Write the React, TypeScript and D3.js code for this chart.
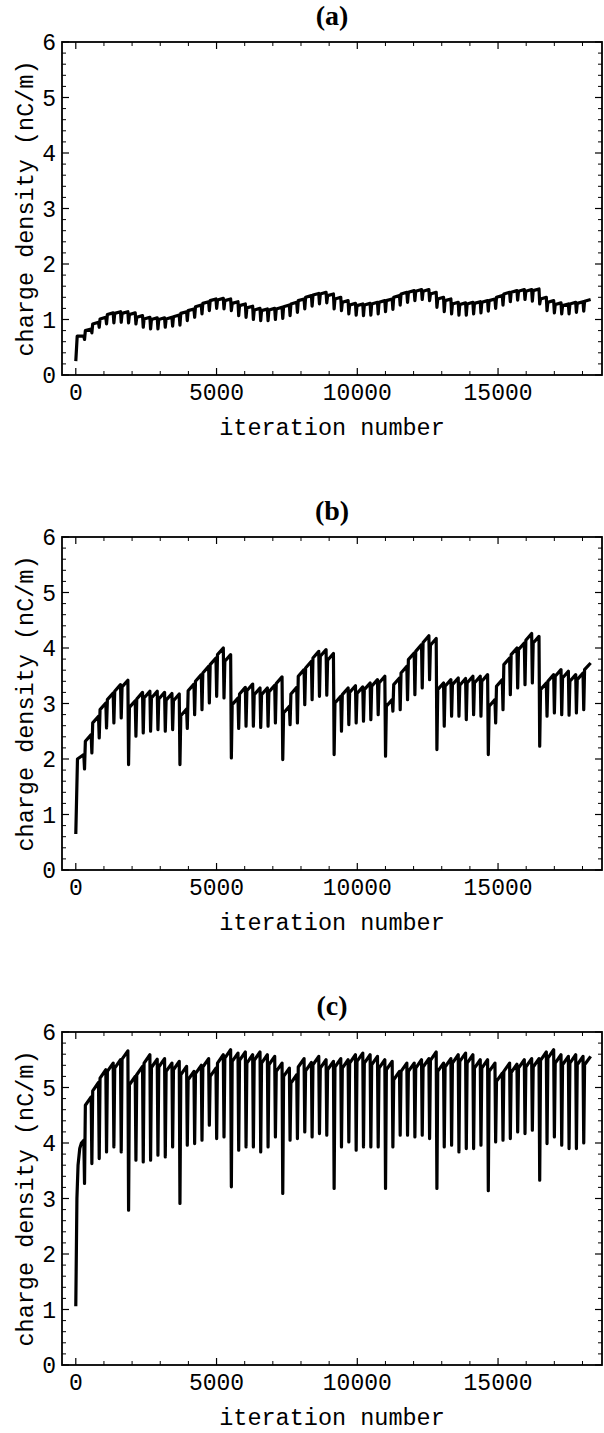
import React from 'react';
import * as d3 from 'd3';

// iterations at which the sawtooth drops (shared by all three runs)
const toothIter = [
  285, 546, 807, 1067, 1328, 1589, 1850, 2111, 2371, 2632, 2893, 3154, 3415, 3675,
  3936, 4197, 4458, 4719, 4979, 5240, 5501, 5762, 6023, 6283, 6544, 6805, 7066, 7327,
  7587, 7848, 8109, 8370, 8631, 8891, 9152, 9413, 9674, 9935, 10195, 10456, 10717, 10978,
  11239, 11499, 11760, 12021, 12282, 12543, 12803, 13064, 13325, 13586, 13847, 14107, 14368, 14629,
  14890, 15151, 15411, 15672, 15933, 16194, 16455, 16715, 16976, 17237, 17498, 17759, 18019,
];
const endIter = 18290;

// (a)
const startIterA = [0, 50];
const startValA = [0.25, 0.7];
const peakA = [
  0.70, 0.83, 0.95, 1.04, 1.12, 1.14, 1.14, 1.12, 1.07, 1.04, 1.03, 1.03, 1.04, 1.08,
  1.14, 1.19, 1.26, 1.32, 1.37, 1.38, 1.37, 1.32, 1.28, 1.24, 1.20, 1.19, 1.20, 1.22,
  1.26, 1.31, 1.37, 1.43, 1.47, 1.49, 1.46, 1.40, 1.34, 1.29, 1.28, 1.29, 1.31, 1.34,
  1.37, 1.43, 1.49, 1.52, 1.54, 1.54, 1.49, 1.40, 1.37, 1.31, 1.30, 1.31, 1.32, 1.34,
  1.37, 1.43, 1.49, 1.52, 1.54, 1.54, 1.55, 1.40, 1.34, 1.30, 1.28, 1.31, 1.32,
];
const troughA = [
  0.64, 0.76, 0.86, 0.92, 0.94, 0.95, 0.94, 0.92, 0.86, 0.83, 0.83, 0.86, 0.88, 0.90,
  0.98, 1.04, 1.10, 1.16, 1.20, 1.19, 1.16, 1.07, 1.04, 1.00, 0.98, 0.98, 1.00, 1.02,
  1.07, 1.13, 1.19, 1.24, 1.28, 1.30, 1.19, 1.16, 1.10, 1.08, 1.07, 1.08, 1.10, 1.14,
  1.18, 1.26, 1.31, 1.34, 1.36, 1.34, 1.22, 1.14, 1.10, 1.08, 1.08, 1.10, 1.12, 1.15,
  1.20, 1.26, 1.32, 1.35, 1.36, 1.33, 1.28, 1.16, 1.12, 1.10, 1.10, 1.13, 1.15,
];
const endValA = 1.36;
const gapA = 0.03; // how far below the next peak each tooth recovers

// (b)
const startIterB = [0, 60];
const startValB = [0.65, 2.0];
const peakB = [
  2.08, 2.44, 2.77, 3.01, 3.19, 3.34, 3.42, 3.05, 3.20, 3.22, 3.22, 3.20, 3.18, 3.17,
  2.90, 3.35, 3.52, 3.67, 3.82, 4.00, 3.88, 3.10, 3.29, 3.35, 3.28, 3.28, 3.33, 3.48,
  2.95, 3.29, 3.61, 3.76, 3.94, 3.97, 3.90, 3.13, 3.28, 3.32, 3.30, 3.37, 3.43, 3.49,
  3.07, 3.46, 3.67, 3.91, 4.06, 4.22, 4.17, 3.37, 3.43, 3.46, 3.45, 3.49, 3.49, 3.52,
  3.07, 3.43, 3.82, 4.00, 4.09, 4.26, 4.21, 3.37, 3.52, 3.61, 3.58, 3.52, 3.55,
];
const troughB = [
  1.82, 2.11, 2.38, 2.56, 2.65, 2.74, 1.90, 2.41, 2.47, 2.50, 2.53, 2.50, 2.53, 1.90,
  2.55, 2.80, 2.89, 3.01, 3.13, 3.10, 2.02, 2.55, 2.59, 2.59, 2.57, 2.59, 2.65, 1.99,
  2.62, 2.65, 2.98, 3.07, 3.13, 3.15, 2.08, 2.50, 2.62, 2.65, 2.68, 2.71, 2.80, 2.05,
  2.86, 2.89, 3.07, 3.16, 3.28, 3.43, 2.17, 2.59, 2.77, 2.77, 2.71, 2.80, 2.77, 2.08,
  2.65, 2.89, 3.16, 3.28, 3.34, 3.37, 2.23, 2.77, 2.83, 2.80, 2.79, 2.83, 2.89,
];
const endValB = 3.73;
const gapB = 0.12;

// (c)
const startIterC = [0, 40, 80, 140, 200];
const startValC = [1.06, 3.0, 3.6, 3.9, 4.0];
const peakC = [
  4.05, 4.83, 5.09, 5.32, 5.44, 5.50, 5.66, 5.20, 5.38, 5.59, 5.51, 5.52, 5.44, 5.47,
  5.38, 5.29, 5.40, 5.52, 5.35, 5.59, 5.68, 5.62, 5.64, 5.59, 5.64, 5.59, 5.56, 5.44,
  5.35, 5.23, 5.52, 5.45, 5.56, 5.50, 5.47, 5.52, 5.50, 5.59, 5.62, 5.59, 5.56, 5.50,
  5.47, 5.29, 5.44, 5.44, 5.50, 5.52, 5.64, 5.44, 5.52, 5.59, 5.62, 5.59, 5.50, 5.50,
  5.44, 5.26, 5.44, 5.42, 5.50, 5.52, 5.52, 5.64, 5.68, 5.59, 5.56, 5.59, 5.56,
];
const troughC = [
  3.27, 3.63, 3.72, 3.84, 3.93, 3.84, 2.79, 3.69, 3.66, 3.69, 3.78, 3.75, 3.93, 2.91,
  3.96, 3.99, 4.05, 4.32, 4.08, 4.11, 3.21, 3.87, 3.93, 3.93, 3.84, 3.93, 4.11, 3.09,
  4.05, 4.08, 4.20, 4.11, 4.17, 4.14, 3.18, 3.93, 4.02, 3.87, 3.93, 3.93, 3.93, 3.18,
  3.93, 4.14, 4.14, 4.11, 4.14, 4.08, 3.18, 3.93, 3.96, 3.84, 3.90, 3.90, 3.96, 3.14,
  4.02, 4.05, 4.08, 4.20, 4.17, 4.23, 3.33, 3.99, 4.11, 3.96, 3.90, 3.90, 4.00,
];
const endValC = 5.56;
const gapC = 0.15;

const xMajor = [0, 5000, 10000, 15000];
const yMajor = [0, 1, 2, 3, 4, 5, 6];

const buildSeries = (
  startIter: number[], startVal: number[], peaks: number[], troughs: number[], endVal: number, gap: number,
): [number, number][] => {
  const pts: [number, number][] = startIter.map((t, i) => [t, startVal[i]]);
  toothIter.forEach((t, i) => {
    const next = i + 1 < peaks.length ? peaks[i + 1] : endVal;
    pts.push([t, peaks[i]]);
    pts.push([t + 25, troughs[i]]);
    pts.push([t + 55, next - gap]);
  });
  pts.push([endIter, endVal]);
  return pts;
};

const LEFT = 62;
const RIGHT = 602;
const HEIGHT = 333;
const mono = '"Liberation Mono", "DejaVu Sans Mono", monospace';

interface PanelProps {
  title: string;
  top: number;
  data: [number, number][];
}

const Panel: React.FC<PanelProps> = ({ title, top, data }) => {
  const x = d3.scaleLinear().domain([-490, 18693]).range([LEFT, RIGHT]);
  const y = d3.scaleLinear().domain([0, 6]).range([top + HEIGHT, top]);
  const bottom = top + HEIGHT;
  const line = d3.line<[number, number]>().x((d) => x(d[0])).y((d) => y(d[1]));

  const yMinor = d3.range(0, 6.001, 0.2).filter((v) => Math.abs(v - Math.round(v)) > 0.01);
  const xMinor = d3.range(0, 18001, 1000).filter((v) => v % 5000 !== 0);

  return (
    <g>
      <text x={(LEFT + RIGHT) / 2} y={top - 17} textAnchor="middle"
        style={{ fontFamily: '"Liberation Serif", "Times New Roman", serif', fontWeight: 'bold', fontSize: 28 }}>
        {title}
      </text>
      <rect x={LEFT} y={top} width={RIGHT - LEFT} height={HEIGHT} fill="none" stroke="#000" strokeWidth={1.8} />
      {yMajor.map((v) => (
        <g key={'ym' + v}>
          <line x1={LEFT} x2={LEFT + 7} y1={y(v)} y2={y(v)} stroke="#000" strokeWidth={1.2} />
          <line x1={RIGHT} x2={RIGHT - 7} y1={y(v)} y2={y(v)} stroke="#000" strokeWidth={1.2} />
          <text x={LEFT - 6} y={y(v)} dy="0.36em" textAnchor="end"
            style={{ fontFamily: mono, fontSize: 23 }}>{v}</text>
        </g>
      ))}
      {yMinor.map((v) => (
        <g key={'yn' + v}>
          <line x1={LEFT} x2={LEFT + 4} y1={y(v)} y2={y(v)} stroke="#000" strokeWidth={1} />
          <line x1={RIGHT} x2={RIGHT - 4} y1={y(v)} y2={y(v)} stroke="#000" strokeWidth={1} />
        </g>
      ))}
      {xMajor.map((v) => (
        <g key={'xm' + v}>
          <line x1={x(v)} x2={x(v)} y1={bottom} y2={bottom - 7} stroke="#000" strokeWidth={1.2} />
          <line x1={x(v)} x2={x(v)} y1={top} y2={top + 7} stroke="#000" strokeWidth={1.2} />
          <text x={x(v)} y={bottom + 25} textAnchor="middle"
            style={{ fontFamily: mono, fontSize: 23 }}>{v}</text>
        </g>
      ))}
      {xMinor.map((v) => (
        <g key={'xn' + v}>
          <line x1={x(v)} x2={x(v)} y1={bottom} y2={bottom - 4} stroke="#000" strokeWidth={1} />
          <line x1={x(v)} x2={x(v)} y1={top} y2={top + 4} stroke="#000" strokeWidth={1} />
        </g>
      ))}
      <text x={(LEFT + RIGHT) / 2} y={bottom + 60} textAnchor="middle"
        style={{ fontFamily: mono, fontSize: 23.5 }}>iteration number</text>
      <text transform={`translate(33,${top + HEIGHT / 2}) rotate(-90)`} textAnchor="middle"
        style={{ fontFamily: mono, fontSize: 23.5 }}>charge density (nC/m)</text>
      <path d={line(data) || ''} fill="none" stroke="#000" strokeWidth={3.2} strokeLinejoin="round" />
    </g>
  );
};

const App: React.FC = () => {
  const seriesA = buildSeries(startIterA, startValA, peakA, troughA, endValA, gapA);
  const seriesB = buildSeries(startIterB, startValB, peakB, troughB, endValB, gapB);
  const seriesC = buildSeries(startIterC, startValC, peakC, troughC, endValC, gapC);
  return (
    <svg width={604} height={1433} style={{ position: 'absolute', left: 0, top: 0, background: '#fff' }}>
      <rect width={604} height={1433} fill="#fff" />
      <Panel title="(a)" top={42} data={seriesA} />
      <Panel title="(b)" top={537} data={seriesB} />
      <Panel title="(c)" top={1032} data={seriesC} />
    </svg>
  );
};

export default App;
